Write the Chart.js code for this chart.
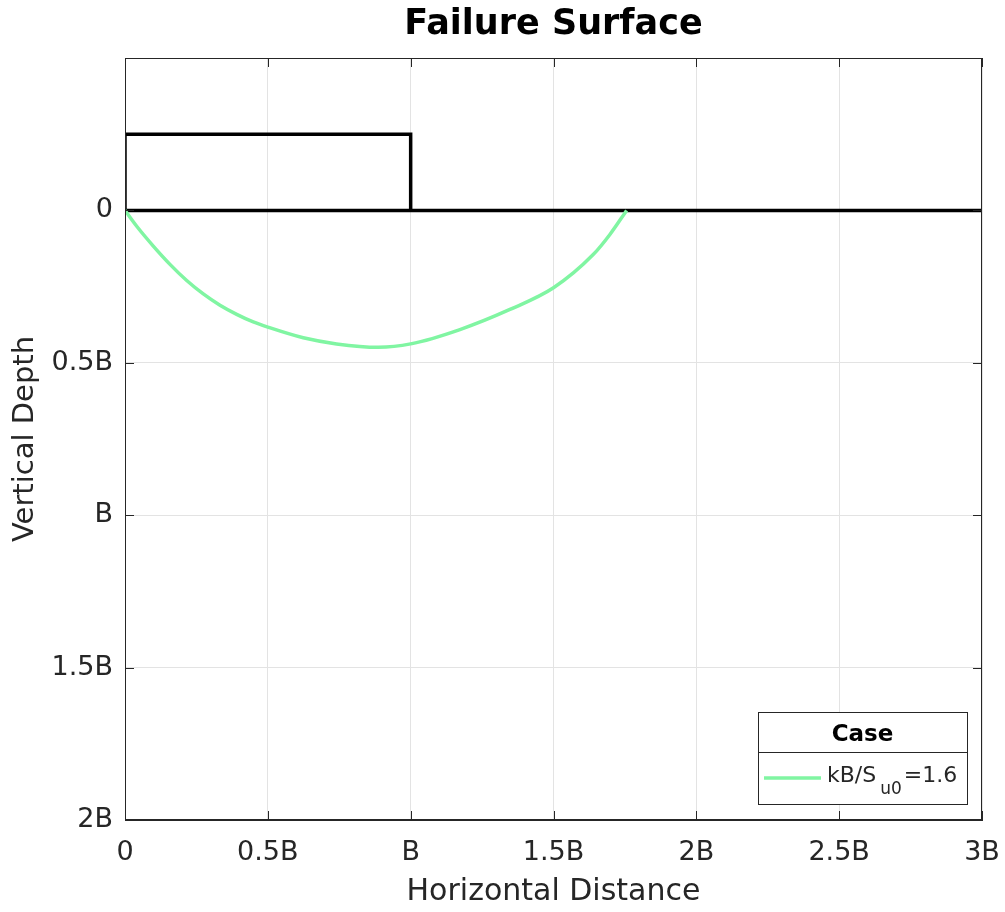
<!DOCTYPE html>
<html>
<head>
<meta charset="utf-8">
<title>Failure Surface</title>
<script src="https://cdn.jsdelivr.net/npm/chart.js@4"></script>
<style>
body { margin: 0; background: #fff; }
#box { width: 1005px; height: 912px; }
</style>
</head>
<body>
<div id="box"><canvas id="graficoFalha"></canvas></div>
<script>
// ======================================
// Failure surface - data
// ======================================

// ground surface (depth 0)
const groundX = [0, 3];
const groundY = [0, 0];

// footing outline (width B, height 0.25B above ground)
const footingX = [0, 0, 1, 1];
const footingY = [0, -0.25, -0.25, 0];

// failure surface (x in B, depth in B)
const surfaceX = [0, 0.041, 0.099, 0.1575, 0.216, 0.274, 0.3325, 0.391, 0.449, 0.5, 0.624, 0.7406, 0.8866, 1.0, 1.1725, 1.3475, 1.5, 1.639, 1.6975, 1.756];
const surfaceDepth = [0, 0.052, 0.117, 0.177, 0.230, 0.274, 0.311, 0.341, 0.366, 0.383, 0.418, 0.438, 0.449, 0.438, 0.391, 0.325, 0.254, 0.145, 0.079, 0];

const xTicks = [0, 0.5, 1, 1.5, 2, 2.5, 3];
const xTickLabels = ["0", "0.5B", "B", "1.5B", "2B", "2.5B", "3B"];
const yTicks = [0, 0.5, 1, 1.5, 2];
const yTickLabels = ["0", "0.5B", "B", "1.5B", "2B"];

const legendTitle = "Case";
const caseLabel = "kB/S";
const caseSub = "u0";
const caseValue = "=1.6";

const verde = "#80F5A2";
const texto = "#262626";
const fonte = "'DejaVu Sans', Arial, Helvetica, sans-serif";

function pontos(xs, ys) {
    return xs.map((x, i) => ({ x: x, y: ys[i] }));
}

// ======================================
// box, inner ticks and legend
// ======================================
const moldura = {
    id: "moldura",
    afterDraw(chart) {
        const ctx = chart.ctx;
        const a = chart.chartArea;
        const sx = chart.scales.x;
        const sy = chart.scales.y;
        ctx.save();

        // box + inner ticks
        ctx.strokeStyle = texto;
        ctx.lineWidth = 1;
        ctx.strokeRect(a.left + 0.5, a.top + 0.5, a.right - a.left - 1, a.bottom - a.top - 1);
        ctx.beginPath();
        xTicks.forEach(v => {
            const px = Math.round(sx.getPixelForValue(v)) + 0.5;
            ctx.moveTo(px, a.bottom); ctx.lineTo(px, a.bottom - 9);
            ctx.moveTo(px, a.top); ctx.lineTo(px, a.top + 9);
        });
        yTicks.forEach(v => {
            const py = Math.round(sy.getPixelForValue(v)) + 0.5;
            ctx.moveTo(a.left, py); ctx.lineTo(a.left + 9, py);
            ctx.moveTo(a.right, py); ctx.lineTo(a.right - 9, py);
        });
        ctx.stroke();

        // legend
        const lx = a.right - 224, ly = a.bottom - 108, lw = 209, lh = 92;
        ctx.fillStyle = "#fff";
        ctx.fillRect(lx, ly, lw, lh);
        ctx.strokeStyle = texto;
        ctx.strokeRect(lx + 0.5, ly + 0.5, lw, lh);
        ctx.beginPath();
        ctx.moveTo(lx, ly + 40.5); ctx.lineTo(lx + lw, ly + 40.5);
        ctx.stroke();

        ctx.fillStyle = "#000";
        ctx.font = "bold 23px " + fonte;
        ctx.textAlign = "center";
        ctx.textBaseline = "alphabetic";
        ctx.fillText(legendTitle, lx + lw / 2, ly + 29);

        ctx.strokeStyle = verde;
        ctx.lineWidth = 3.5;
        ctx.beginPath();
        ctx.moveTo(lx + 6, ly + 66); ctx.lineTo(lx + 63, ly + 66);
        ctx.stroke();

        ctx.fillStyle = texto;
        ctx.textAlign = "left";
        let tx = lx + 69;
        ctx.font = "22px " + fonte;
        ctx.fillText(caseLabel, tx, ly + 70);
        tx += ctx.measureText(caseLabel).width + 4;
        ctx.font = "17px " + fonte;
        ctx.fillText(caseSub, tx, ly + 82);
        tx += ctx.measureText(caseSub).width + 2;
        ctx.font = "22px " + fonte;
        ctx.fillText(caseValue, tx, ly + 70);
        ctx.restore();
    }
};

// ======================================
// chart
// ======================================
const falha = document.getElementById("graficoFalha");

if (falha) {

new Chart(falha, {

type: "scatter",

data: {
    datasets: [
        {
            label: "kB/S_u0=1.6",
            data: pontos(surfaceX, surfaceDepth),
            showLine: true,
            borderColor: verde,
            borderWidth: 3.5,
            pointRadius: 0,
            cubicInterpolationMode: "monotone"
        },
        {
            label: "Ground",
            data: pontos(groundX, groundY),
            showLine: true,
            borderColor: "#000",
            borderWidth: 3.5,
            pointRadius: 0
        },
        {
            label: "Footing",
            data: pontos(footingX, footingY),
            showLine: true,
            borderColor: "#000",
            borderWidth: 3.5,
            pointRadius: 0,
            borderJoinStyle: "miter"
        }
    ]
},

options: {
    responsive: true,
    maintainAspectRatio: false,
    animation: false,
    layout: { padding: { left: 0, right: 23, top: 0, bottom: 0 } },
    plugins: {
        legend: { display: false },
        tooltip: { enabled: false },
        title: {
            display: true,
            text: "Failure Surface",
            color: "#000",
            fullSize: false,
            font: { family: fonte, size: 35, weight: "bold" },
            padding: { top: 4, bottom: 12 }
        }
    },
    scales: {
        x: {
            type: "linear",
            min: 0,
            max: 3,
            afterBuildTicks: s => { s.ticks = xTicks.map(v => ({ value: v })); },
            afterFit: s => { s.height = 92; s.paddingLeft = 0; s.paddingRight = 0; },
            ticks: {
                color: texto,
                font: { family: fonte, size: 27 },
                padding: 17,
                maxRotation: 0,
                callback: v => xTickLabels[xTicks.indexOf(v)]
            },
            grid: { color: "#e3e3e3", drawTicks: false },
            border: { color: texto },
            title: {
                display: true,
                text: "Horizontal Distance",
                color: texto,
                font: { family: fonte, size: 30 },
                padding: { top: 0, bottom: 2 }
            }
        },
        y: {
            type: "linear",
            reverse: true,
            min: -0.5,
            max: 2,
            afterBuildTicks: s => { s.ticks = [-0.5].concat(yTicks).map(v => ({ value: v })); },
            afterFit: s => { s.width = 125; s.paddingTop = 0; s.paddingBottom = 0; },
            ticks: {
                color: texto,
                font: { family: fonte, size: 27 },
                padding: 12,
                callback: v => (v < 0 ? "" : yTickLabels[yTicks.indexOf(v)])
            },
            grid: { color: "#e3e3e3", drawTicks: false },
            border: { color: texto },
            title: {
                display: true,
                text: "Vertical Depth",
                color: texto,
                font: { family: fonte, size: 29 },
                padding: { top: 8, bottom: 0 }
            }
        }
    }
},

plugins: [moldura]

});

}
</script>
</body>
</html>
